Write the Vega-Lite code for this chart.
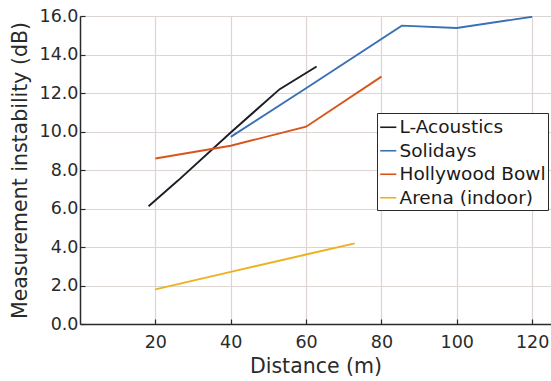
{
  "$schema": "https://vega.github.io/schema/vega-lite/v6.json",
  "width": 471,
  "height": 308,
  "autosize": {"type": "none"},
  "padding": {"left": 80, "top": 16, "right": 0, "bottom": 57},
  "background": "white",
  "config": {
    "font": "DejaVu Sans",
    "view": {"stroke": null},
    "axis": {
      "labelFont": "DejaVu Sans",
      "titleFont": "DejaVu Sans",
      "labelFontSize": 17.5,
      "titleFontSize": 20.5,
      "titleFontWeight": "normal",
      "labelColor": "#2a2a2a",
      "titleColor": "#2a2a2a",
      "domainColor": "#2a2a2a",
      "domainWidth": 1.5,
      "tickColor": "#2a2a2a",
      "tickSize": -5,
      "tickWidth": 1.2,
      "gridColor": "#ddd5d2",
      "gridWidth": 1.2,
      "gridOpacity": 1
    }
  },
  "data": {
    "values": [
      {"series": "L-Acoustics", "distance": 18.2, "value": 6.12},
      {"series": "L-Acoustics", "distance": 26, "value": 7.45},
      {"series": "L-Acoustics", "distance": 40, "value": 9.95},
      {"series": "L-Acoustics", "distance": 53, "value": 12.2},
      {"series": "L-Acoustics", "distance": 62.8, "value": 13.38},
      {"series": "Solidays", "distance": 40, "value": 9.72},
      {"series": "Solidays", "distance": 60, "value": 12.25},
      {"series": "Solidays", "distance": 85.4, "value": 15.5},
      {"series": "Solidays", "distance": 100, "value": 15.38},
      {"series": "Solidays", "distance": 120, "value": 15.96},
      {"series": "Hollywood Bowl", "distance": 20, "value": 8.6},
      {"series": "Hollywood Bowl", "distance": 40, "value": 9.26},
      {"series": "Hollywood Bowl", "distance": 60, "value": 10.25},
      {"series": "Hollywood Bowl", "distance": 80, "value": 12.85},
      {"series": "Arena (indoor)", "distance": 20, "value": 1.8},
      {"series": "Arena (indoor)", "distance": 40, "value": 2.71},
      {"series": "Arena (indoor)", "distance": 60, "value": 3.61},
      {"series": "Arena (indoor)", "distance": 72.9, "value": 4.19}
    ]
  },
  "mark": {"type": "line", "strokeWidth": 1.9, "clip": true},
  "encoding": {
    "x": {
      "field": "distance",
      "type": "quantitative",
      "scale": {"domain": [0, 125], "nice": false, "zero": false},
      "axis": {
        "title": "Distance (m)",
        "values": [20, 40, 60, 80, 100, 120],
        "labelPadding": 14,
        "titlePadding": 6
      }
    },
    "y": {
      "field": "value",
      "type": "quantitative",
      "scale": {"domain": [0, 16], "nice": false},
      "axis": {
        "title": "Measurement instability (dB)",
        "values": [0, 2, 4, 6, 8, 10, 12, 14, 16],
        "format": ".1f",
        "labelPadding": 7,
        "titlePadding": 9
      }
    },
    "color": {
      "field": "series",
      "type": "nominal",
      "sort": ["L-Acoustics", "Solidays", "Hollywood Bowl", "Arena (indoor)"],
      "scale": {
        "domain": ["L-Acoustics", "Solidays", "Hollywood Bowl", "Arena (indoor)"],
        "range": ["#1c1c26", "#3b70b5", "#d9541a", "#edb120"]
      },
      "legend": {
        "title": " ",
        "titleFontSize": 3,
        "titlePadding": 0,
        "orient": "none",
        "legendX": 297,
        "legendY": 97,
        "symbolType": "stroke",
        "symbolSize": 260,
        "symbolStrokeWidth": 1.6,
        "labelFontSize": 18.5,
        "labelFont": "DejaVu Sans",
        "labelColor": "#1a1a1a",
        "labelOffset": 2,
        "rowPadding": 4.5,
        "strokeColor": "#2a2a2a",
        "padding": 2,
        "fillColor": "white",
        "symbolOffset": 0
      }
    }
  }
}
